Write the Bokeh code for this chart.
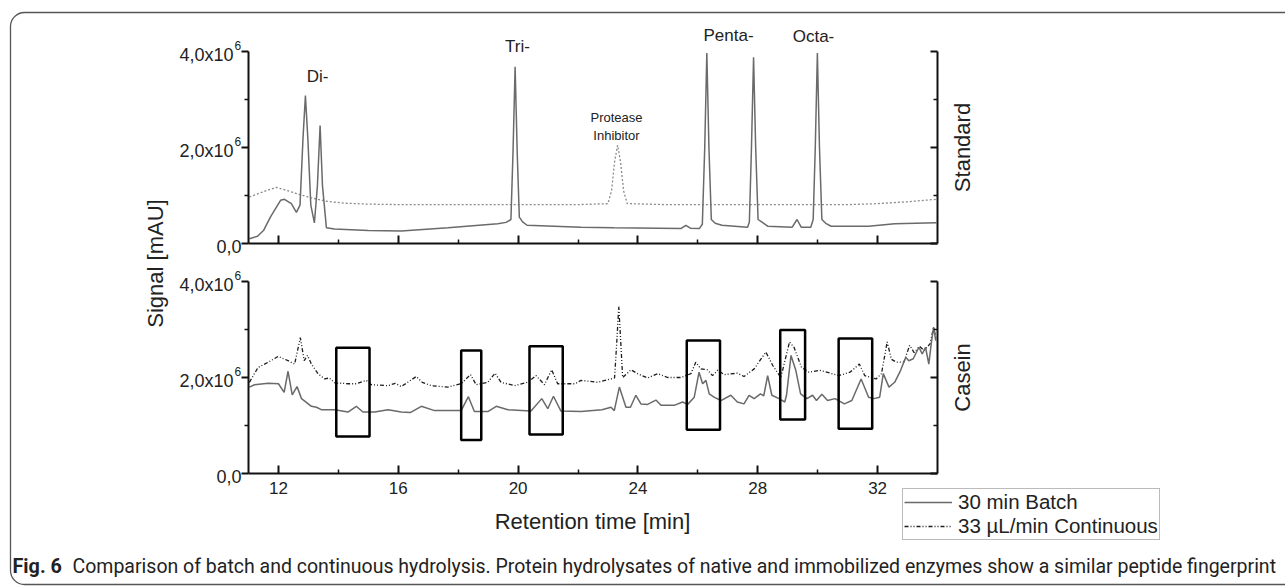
import numpy as np
from bokeh.plotting import figure
from bokeh.models import (Range1d, LinearAxis, FixedTicker, Label, Legend,
                          LegendItem, BoxAnnotation)
from bokeh.embed import file_html
from bokeh.resources import INLINE

# ---------------- data (signal in units of 10^6) ----------------
# Standard: peptide standard (solid) and protease inhibitor (dashed)
std_t = [11.03, 11.3, 11.5, 11.73, 12.07, 12.2, 12.43, 12.6, 12.72, 12.82, 12.9, 12.98,
         13.08, 13.2, 13.3, 13.39, 13.47, 13.6, 13.87, 15.0, 16.1, 17.66, 19.32, 19.6,
         19.76, 19.83, 19.9, 19.97, 20.04, 20.15, 20.3, 22.1, 23.2, 25.43, 25.6, 25.75,
         26.05, 26.15, 26.23, 26.3, 26.37, 26.45, 26.58, 26.8, 27.66, 27.72, 27.79, 27.86,
         27.93, 28.01, 28.2, 28.33, 29.15, 29.31, 29.45, 29.77, 29.85, 29.92, 29.99, 30.06,
         30.14, 30.27, 30.45, 31.7, 32.57, 33.96]
std_v = [0.10, 0.15, 0.27, 0.55, 0.90, 0.92, 0.83, 0.65, 0.80, 2.20, 3.08, 2.20,
         0.80, 0.43, 1.20, 2.46, 1.20, 0.33, 0.30, 0.27, 0.26, 0.33, 0.41, 0.44,
         0.50, 1.90, 3.68, 1.90, 0.55, 0.45, 0.38, 0.34, 0.33, 0.31, 0.38, 0.32,
         0.31, 0.40, 2.00, 3.97, 2.00, 0.50, 0.42, 0.38, 0.34, 0.45, 2.00, 3.88,
         2.00, 0.50, 0.42, 0.36, 0.34, 0.50, 0.34, 0.34, 0.50, 2.00, 3.97, 2.00,
         0.50, 0.42, 0.36, 0.36, 0.41, 0.43]
inh_t = [11.03, 11.5, 11.93, 12.3, 12.71, 13.1, 13.6, 14.2, 15.0, 16.1, 18.0, 20.0,
         22.0, 23.0, 23.12, 23.22, 23.32, 23.42, 23.52, 23.64, 25.0, 28.0, 31.0, 32.0,
         33.0, 33.96]
inh_v = [0.97, 1.08, 1.17, 1.10, 1.02, 0.95, 0.88, 0.84, 0.82, 0.81, 0.81, 0.81,
         0.81, 0.83, 1.10, 1.70, 2.05, 1.70, 1.10, 0.83, 0.81, 0.81, 0.81, 0.83,
         0.87, 0.92]

# Casein: 30 min batch (solid) and 33 uL/min continuous (dash-dot-dot)
batch_t = [11.03, 11.2, 11.66, 12.0, 12.19, 12.32, 12.46, 12.62, 12.77, 13.1, 13.27, 13.43,
           13.88, 14.32, 14.6, 14.82, 15.21, 15.66, 16.1, 16.4, 16.77, 17.21, 18.1, 18.34,
           18.54, 18.99, 19.27, 19.66, 20.43, 20.79, 20.99, 21.18, 21.43, 22.1, 22.8, 23.1,
           23.21, 23.38, 23.6, 23.75, 23.93, 24.1, 24.32, 24.6, 24.77, 25.21, 25.49, 25.66,
           25.88, 26.04, 26.16, 26.27, 26.38, 26.54, 26.77, 27.1, 27.32, 27.54, 27.71, 27.88,
           28.09, 28.2, 28.33, 28.47, 28.71, 28.9, 28.96, 29.11, 29.27, 29.43, 29.64, 29.83,
           29.96, 30.14, 30.33, 30.58, 30.89, 31.14, 31.45, 31.7, 31.88, 32.07, 32.19, 32.38,
           32.57, 32.77, 32.94, 33.04, 33.19, 33.38, 33.49, 33.6, 33.71, 33.79, 33.87, 33.94]
batch_v = [1.80, 1.85, 1.88, 1.87, 1.69, 2.13, 1.64, 1.81, 1.56, 1.40, 1.38, 1.33,
           1.33, 1.28, 1.40, 1.28, 1.28, 1.33, 1.28, 1.27, 1.40, 1.31, 1.31, 1.60,
           1.29, 1.29, 1.40, 1.33, 1.30, 1.56, 1.35, 1.61, 1.30, 1.29, 1.33, 1.38,
           1.31, 1.80, 1.38, 1.38, 1.63, 1.45, 1.44, 1.53, 1.42, 1.42, 1.49, 1.44,
           1.59, 2.11, 1.87, 1.94, 1.66, 1.59, 1.52, 1.63, 1.49, 1.45, 1.63, 1.56,
           1.66, 1.62, 2.04, 1.63, 1.56, 1.49, 1.63, 2.46, 2.15, 1.66, 1.56, 1.63,
           1.52, 1.65, 1.52, 1.56, 1.45, 1.52, 1.97, 1.59, 1.56, 1.59, 2.08, 1.80,
           1.90, 2.15, 2.42, 2.35, 2.39, 2.63, 2.49, 2.63, 2.28, 2.70, 3.05, 2.77]
cont_t = [11.03, 11.32, 11.66, 11.99, 12.32, 12.54, 12.73, 12.86, 12.97, 13.1, 13.32, 13.54,
          13.7, 13.88, 14.32, 14.6, 14.93, 15.1, 15.66, 15.9, 16.1, 16.6, 16.8, 17.1,
          17.66, 18.1, 18.41, 18.6, 18.99, 19.23, 19.43, 19.88, 20.32, 20.6, 20.88, 21.12,
          21.32, 21.9, 22.1, 22.66, 23.1, 23.22, 23.29, 23.36, 23.43, 23.49, 23.77, 23.99,
          24.32, 24.66, 24.99, 25.43, 25.77, 25.93, 26.1, 26.32, 26.49, 26.66, 26.88, 27.32,
          27.54, 27.88, 28.27, 28.5, 28.77, 29.06, 29.21, 29.46, 29.71, 30.08, 30.7, 31.08,
          31.39, 31.57, 31.95, 32.13, 32.32, 32.46, 32.63, 32.88, 33.07, 33.22, 33.4, 33.55,
          33.75, 33.87, 33.95]
cont_v = [1.90, 2.21, 2.32, 2.44, 2.35, 2.28, 2.83, 2.35, 2.46, 2.28, 2.08, 1.97,
          1.99, 1.89, 1.87, 1.87, 1.94, 1.85, 1.83, 1.88, 1.81, 2.02, 1.90, 1.83,
          1.80, 1.87, 2.06, 1.85, 1.90, 2.09, 1.90, 1.83, 1.90, 2.04, 1.85, 2.16,
          1.87, 1.87, 1.94, 1.90, 1.97, 1.99, 2.70, 3.48, 2.70, 2.00, 2.16, 2.08,
          1.99, 2.08, 2.00, 2.00, 2.08, 2.32, 2.18, 2.16, 2.04, 2.15, 2.06, 2.09,
          2.02, 2.18, 2.53, 2.25, 2.00, 2.74, 2.63, 2.21, 2.11, 2.15, 2.04, 2.11,
          2.28, 2.04, 1.97, 2.08, 2.74, 2.38, 2.32, 2.32, 2.67, 2.52, 2.65, 2.56,
          2.70, 3.05, 2.80]

# highlighted regions (min, 10^6)
box_left = [13.93, 18.10, 20.38, 25.63, 28.75, 30.70]
box_right = [15.04, 18.77, 21.49, 26.74, 29.58, 31.82]
box_bottom = [0.77, 0.70, 0.81, 0.91, 1.125, 0.93]
box_top = [2.62, 2.56, 2.65, 2.77, 2.99, 2.81]

x_ticks = [12, 16, 20, 24, 28, 32]
x_minor = [14, 18, 22, 26, 30]
y_ticks = [0, 2, 4]
y_minor = [1, 3]
y_tick_base = {0: "0,0", 2: "2,0x10", 4: "4,0x10"}
y_tick_exp = {2: "6", 4: "6"}
peak_names = ["Di-", "Tri-", "Penta-", "Octa-"]
series_names = ["30 min Batch", "33 µL/min Continuous"]
panel_names = ["Standard", "Casein"]
caption_bold = "Fig. 6"
caption_text = ("Comparison of batch and continuous hydrolysis. Protein hydrolysates of native "
                "and immobilized enzymes show a similar peptide fingerprint")

# ---------------- layout (pixels) ----------------
W, H = 1285, 588
FL, FR, FT, FB = 248, 937, 51, 473   # panel area in pixels
X0, X1 = 11, 34
PPM = (FR - FL) / (X1 - X0)         # px per minute
PPY = 48.0                           # px per 10^6
TOP_ZERO = 243                       # pixel row of 0 in Standard panel


def xd(px):
    return X0 + (px - FL) / PPM


def yb(py):
    return (FB - py) / PPY


def yt(py):
    return (TOP_ZERO - py) / PPY


FONT = "Liberation Sans"
TXT = "#222222"

# the plot frame covers the whole canvas; panels are drawn with fixed-location axes
p = figure(width=W, height=H, x_range=Range1d(xd(0), xd(W)), y_range=Range1d(yb(H), yb(0)),
           x_axis_type=None, y_axis_type=None, output_backend="svg",
           toolbar_location=None, min_border=0, min_border_left=0, min_border_right=0,
           min_border_top=0, min_border_bottom=0)
p.extra_y_ranges = {"top": Range1d(yt(H), yt(0))}
p.outline_line_color = None
p.background_fill_color = "white"
p.border_fill_color = "white"


def style(ax):
    ax.axis_line_width = 2
    ax.axis_line_color = "#111111"
    ax.major_tick_line_width = 2
    ax.major_tick_line_color = "#111111"
    ax.minor_tick_line_width = 1.5
    ax.minor_tick_line_color = "#111111"
    ax.major_label_text_font = FONT
    ax.major_label_text_color = TXT


for rn, show in [("default", True), ("top", False)]:
    xa = LinearAxis(y_range_name=rn, fixed_location=0, bounds=(X0, X1),
                    ticker=FixedTicker(ticks=x_ticks, minor_ticks=x_minor),
                    major_tick_in=8, major_tick_out=0, minor_tick_in=4, minor_tick_out=0,
                    major_label_text_font_size="17px", major_label_standoff=8)
    if not show:
        xa.major_label_overrides = {t: "" for t in x_ticks}
    style(xa)
    p.add_layout(xa, "below")

    yl = LinearAxis(y_range_name=rn, fixed_location=X0, bounds=(0, 4),
                    ticker=FixedTicker(ticks=y_ticks, minor_ticks=y_minor),
                    major_label_overrides={t: "" for t in y_ticks},
                    major_tick_out=7, major_tick_in=0, minor_tick_out=4, minor_tick_in=0)
    style(yl)
    p.add_layout(yl, "left")

    yr = LinearAxis(y_range_name=rn, fixed_location=X1, bounds=(0, 4),
                    ticker=FixedTicker(ticks=y_ticks, minor_ticks=y_minor),
                    major_label_overrides={t: "" for t in y_ticks},
                    major_tick_out=0, major_tick_in=7, minor_tick_out=0, minor_tick_in=4)
    style(yr)
    p.add_layout(yr, "right")

    # y tick labels with a raised exponent
    for t in y_ticks:
        has_exp = t in y_tick_exp
        p.add_layout(Label(x=xd(233 if has_exp else 241), y=t - 3 / PPY, y_range_name=rn,
                           text=y_tick_base[t], text_font=FONT, text_font_size="18px",
                           text_color=TXT, text_align="right", text_baseline="middle"))
        if has_exp:
            p.add_layout(Label(x=xd(234), y=t + 6 / PPY, y_range_name=rn,
                               text=y_tick_exp[t], text_font=FONT, text_font_size="12px",
                               text_color=TXT, text_align="left", text_baseline="middle"))

# traces
p.line(inh_t, inh_v, y_range_name="top", line_color="#8a8a8a", line_width=1.3, line_dash="2 2")
p.line(std_t, std_v, y_range_name="top", line_color="#6a6a6a", line_width=1.5)
r_cont = p.line(cont_t, cont_v, line_color="#1e1e1e", line_width=1.3, line_dash="4 2 1 2 1 2")
r_batch = p.line(batch_t, batch_v, line_color="#6a6a6a", line_width=1.5)
p.quad(left=box_left, right=box_right, bottom=box_bottom, top=box_top,
       fill_color=None, line_color="#000000", line_width=2.5)

# peak labels
peak_pos = [(317, 76), (517, 46), (728, 35), (813, 36)]
for name, (px, py) in zip(peak_names, peak_pos):
    p.add_layout(Label(x=xd(px), y=yt(py), y_range_name="top", text=name,
                       text_font=FONT, text_font_size="17px", text_color=TXT,
                       text_align="center", text_baseline="middle"))
p.add_layout(Label(x=xd(616), y=yt(126), y_range_name="top", text="Protease\nInhibitor",
                   text_font=FONT, text_font_size="13px", text_color=TXT,
                   text_align="center", text_baseline="middle", text_line_height=1.25))

# panel and axis titles
p.add_layout(Label(x=xd(962), y=yt(147), y_range_name="top", text=panel_names[0],
                   angle=np.pi / 2, text_font=FONT, text_font_size="22px",
                   text_color=TXT, text_align="center", text_baseline="middle"))
p.add_layout(Label(x=xd(962), y=yb(377), text=panel_names[1], angle=np.pi / 2,
                   text_font=FONT, text_font_size="22px", text_color=TXT,
                   text_align="center", text_baseline="middle"))
p.add_layout(Label(x=xd(155), y=yb(263), text="Signal [mAU]", angle=np.pi / 2,
                   text_font=FONT, text_font_size="22px", text_color=TXT,
                   text_align="center", text_baseline="middle"))
p.add_layout(Label(x=xd(592), y=yb(521), text="Retention time [min]",
                   text_font=FONT, text_font_size="22px", text_color=TXT,
                   text_align="center", text_baseline="middle"))

# legend
leg = Legend(items=[LegendItem(label=series_names[0], renderers=[r_batch]),
                    LegendItem(label=series_names[1], renderers=[r_cont])],
             location=(902, H - 540), orientation="vertical",
             label_text_font=FONT, label_text_font_size="20.5px", label_text_color=TXT,
             glyph_width=48, glyph_height=18, label_height=18, spacing=0, padding=1,
             margin=0, label_standoff=6, border_line_color="#777777", border_line_width=1,
             background_fill_color="white", background_fill_alpha=1)
p.add_layout(leg)

# caption
p.add_layout(Label(x=xd(12), y=yb(566), text=caption_bold, text_font="Roboto",
                   text_font_size="19.8px", text_font_style="bold", text_color=TXT,
                   text_align="left", text_baseline="middle"))
p.add_layout(Label(x=xd(72), y=yb(566), text=caption_text, text_font="Roboto",
                   text_font_size="19.5px", text_color=TXT,
                   text_align="left", text_baseline="middle"))

# rounded frame around the figure
p.add_layout(BoxAnnotation(left=xd(10), right=xd(1330), top=yb(12), bottom=yb(584),
                           fill_color=None, fill_alpha=0, line_color="#555555",
                           line_alpha=1, line_width=1.3, border_radius=14))

open("out.html", "w").write(file_html(p, INLINE))
